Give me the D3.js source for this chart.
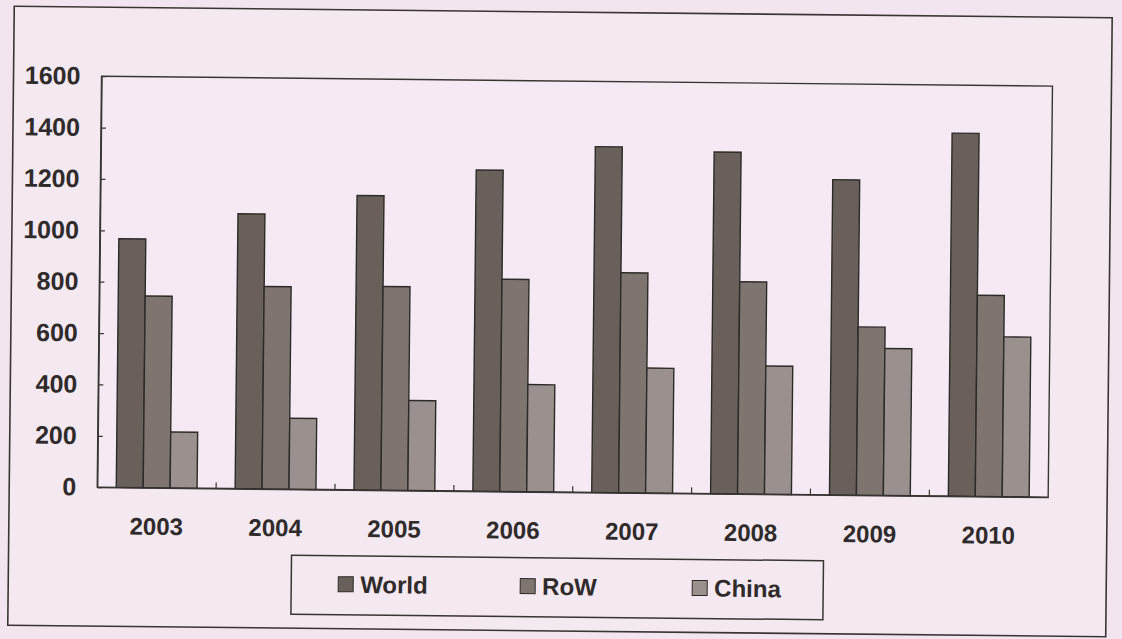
<!DOCTYPE html>
<html>
<head>
<meta charset="utf-8">
<script src="https://cdn.jsdelivr.net/npm/d3@7/dist/d3.min.js"></script>
<style>
  html, body { margin: 0; padding: 0; background: #f3e5ef; }
  svg { display: block; }
  text { font-family: "Liberation Sans", Arial, sans-serif; fill: #2f2b2b; }
</style>
</head>
<body>
<svg id="chart" width="1122" height="639"></svg>
<script>
// Crude steel production (Mt)
const years = ["2003", "2004", "2005", "2006", "2007", "2008", "2009", "2010"];
const world = [968, 1070, 1146, 1250, 1346, 1330, 1227, 1413];
const row   = [746, 788, 793, 826, 856, 826, 655, 783];
const china = [218, 276, 350, 417, 486, 499, 572, 622];
const seriesNames = ["World", "RoW", "China"];
const yTicks = [0, 200, 400, 600, 800, 1000, 1200, 1400, 1600];

const colors = { World: "#6a605b", RoW: "#7e7571", China: "#9a908e" };
const seriesValues = { World: world, RoW: row, China: china };

const svg = d3.select("#chart");
svg.append("rect").attr("width", 1122).attr("height", 639).attr("fill", "#f3e5ef");

// the printed page sits slightly skewed
const page = svg.append("g").attr("transform", "rotate(0.6, 561, 320)");

const plot = { left: 99, right: 1050, top: 81, bottom: 492 };

// outer frame
page.append("rect")
  .attr("x", 11).attr("y", 12).attr("width", 1098).attr("height", 619)
  .attr("fill", "#f4e8f1").attr("stroke", "#3a3535").attr("stroke-width", 1.6);

const x0 = d3.scaleBand().domain(years).range([plot.left, plot.right])
  .paddingInner(0.32).paddingOuter(0.16);
const x1 = d3.scaleBand().domain(seriesNames).range([0, x0.bandwidth()]);
const y = d3.scaleLinear().domain([0, 1600]).range([plot.bottom, plot.top]);

// plot area
page.append("rect")
  .attr("x", plot.left).attr("y", plot.top)
  .attr("width", plot.right - plot.left).attr("height", plot.bottom - plot.top)
  .attr("fill", "#f5eaf3").attr("stroke", "#3a3535").attr("stroke-width", 1.4);

// bars
const rows = years.map((yr, i) => ({ year: yr, values: seriesNames.map(s => ({ key: s, value: seriesValues[s][i] })) }));
const groups = page.append("g").selectAll("g").data(rows).join("g")
  .attr("transform", d => `translate(${x0(d.year)},0)`);
groups.selectAll("rect").data(d => d.values).join("rect")
  .attr("x", d => x1(d.key))
  .attr("y", d => y(d.value))
  .attr("width", x1.bandwidth())
  .attr("height", d => y(0) - y(d.value))
  .attr("fill", d => colors[d.key])
  .attr("stroke", "#2e2a28").attr("stroke-width", 1.4);

// y axis
const yAxis = page.append("g").attr("transform", `translate(${plot.left},0)`)
  .call(d3.axisLeft(y).tickValues(yTicks).tickFormat(d3.format("d"))
    .tickSizeInner(-5).tickSizeOuter(0).tickPadding(21));
yAxis.select(".domain").attr("stroke", "#3a3535").attr("stroke-width", 1.4);
yAxis.selectAll(".tick line").attr("stroke", "#3a3535").attr("stroke-width", 1.2);
yAxis.selectAll(".tick text")
  .style("font-family", '"Liberation Sans", Arial, sans-serif')
  .style("font-size", "25px").style("font-weight", "bold").attr("fill", "#2f2b2b");

// x axis labels
const xAxis = page.append("g").attr("transform", `translate(0,${plot.bottom})`)
  .call(d3.axisBottom(x0).tickSizeInner(0).tickSizeOuter(0).tickPadding(30));
xAxis.select(".domain").attr("stroke", "#3a3535").attr("stroke-width", 1.4);
xAxis.selectAll(".tick text")
  .style("font-family", '"Liberation Sans", Arial, sans-serif')
  .style("font-size", "24px").style("font-weight", "bold").attr("fill", "#2f2b2b");

// category separators on the x axis
const step = x0.step();
const seps = d3.range(1, years.length).map(k => plot.left + k * step);
page.append("g").selectAll("line").data(seps).join("line")
  .attr("x1", d => d).attr("x2", d => d)
  .attr("y1", plot.bottom).attr("y2", plot.bottom - 6)
  .attr("stroke", "#3a3535").attr("stroke-width", 1.2);

// legend
const legend = page.append("g");
legend.append("rect")
  .attr("x", 294).attr("y", 558).attr("width", 532).attr("height", 59)
  .attr("fill", "#f4e8f1").attr("stroke", "#3a3535").attr("stroke-width", 1.5);
const legendX = { World: 341, RoW: 523, China: 695 };
const items = legend.selectAll("g.item").data(seriesNames).join("g")
  .attr("class", "item")
  .attr("transform", d => `translate(${legendX[d]},579)`);
items.append("rect")
  .attr("width", 15).attr("height", 15)
  .attr("fill", d => colors[d]).attr("stroke", "#2e2a28").attr("stroke-width", 1);
items.append("text")
  .attr("x", 22).attr("y", 16)
  .style("font-size", "24px").style("font-weight", "bold")
  .text(d => d);
</script>
</body>
</html>
